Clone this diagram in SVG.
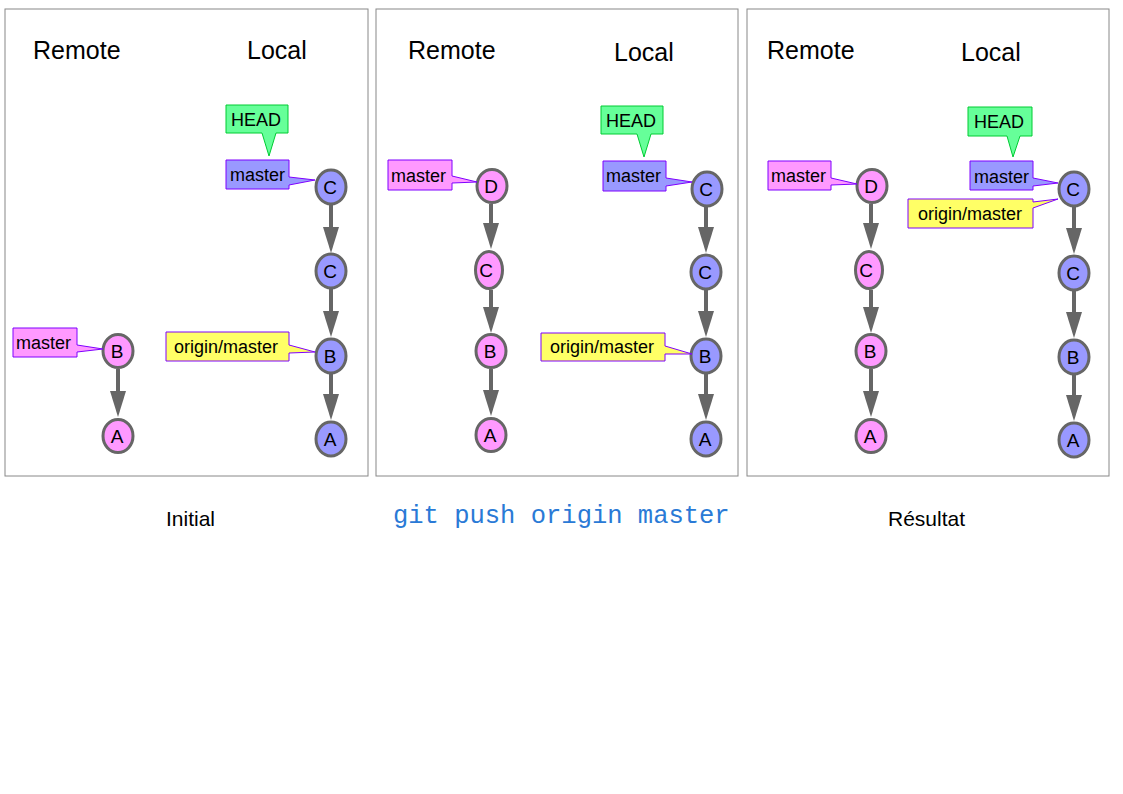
<svg xmlns="http://www.w3.org/2000/svg" width="1123" height="794" viewBox="0 0 1123 794">
<style>
.panel{fill:#fff;stroke:#888;stroke-width:1}
.hdr{font-family:"Liberation Sans",Arial,sans-serif;font-size:25px;fill:#000}
.cap{font-family:"Liberation Sans",Arial,sans-serif;font-size:21px;fill:#000}
.cmd{font-family:"Liberation Mono","Courier New",monospace;font-size:25.5px;fill:#2a7ad6}
.lbl{font-family:"Liberation Sans",Arial,sans-serif;font-size:18px;fill:#000}
.nt{font-family:"Liberation Sans",Arial,sans-serif;font-size:19px;fill:#000;text-anchor:middle}
.pink{fill:#ff99ff;stroke:#666;stroke-width:3}
.blue{fill:#9999ff;stroke:#666;stroke-width:3}
.lpink{fill:#ff99ff;stroke:#7f00ff;stroke-width:1}
.lblue{fill:#9999ff;stroke:#7f00ff;stroke-width:1}
.lyel{fill:#ffff66;stroke:#7f00ff;stroke-width:1}
.lhead{fill:#66ff99;stroke:#00cc33;stroke-width:1}
.edge{stroke:#666;stroke-width:4;fill:none;marker-end:url(#ah)}
</style>
<defs>
<marker id="ah" markerUnits="userSpaceOnUse" markerWidth="18" markerHeight="27" refX="8" refY="1" orient="0" overflow="visible">
<path d="M0,0 L16,0 L8,26 Z" fill="#666"/>
</marker>
</defs>
<rect width="1123" height="794" fill="#fff"/>
<g id="panels">
<rect class="panel" x="5" y="9" width="363" height="467"/>
<rect class="panel" x="376" y="9" width="362" height="467"/>
<rect class="panel" x="747" y="9" width="362" height="467"/>
</g>
<g id="headers">
<text class="hdr" x="33" y="59">Remote</text>
<text class="hdr" x="247" y="59">Local</text>
<text class="hdr" x="408" y="59">Remote</text>
<text class="hdr" x="614" y="61">Local</text>
<text class="hdr" x="767" y="59">Remote</text>
<text class="hdr" x="961" y="61">Local</text>
</g>
<g id="captions">
<text class="cap" x="166" y="526">Initial</text>
<text class="cmd" x="393" y="523">git push origin master</text>
<text class="cap" x="888" y="526">Résultat</text>
</g>
<g id="connectors">
<line class="edge" x1="118" y1="369" x2="118" y2="392"/>
<line class="edge" x1="331" y1="205" x2="331" y2="228"/>
<line class="edge" x1="331" y1="289" x2="331" y2="312"/>
<line class="edge" x1="331" y1="374" x2="331" y2="395"/>
<line class="edge" x1="491" y1="204" x2="491" y2="224"/>
<line class="edge" x1="491" y1="290" x2="491" y2="308"/>
<line class="edge" x1="491" y1="369" x2="491" y2="391"/>
<line class="edge" x1="706" y1="207" x2="706" y2="228"/>
<line class="edge" x1="706" y1="290" x2="706" y2="312"/>
<line class="edge" x1="706" y1="374" x2="706" y2="395"/>
<line class="edge" x1="871" y1="204" x2="871" y2="224"/>
<line class="edge" x1="871" y1="290" x2="871" y2="308"/>
<line class="edge" x1="871" y1="369" x2="871" y2="392"/>
<line class="edge" x1="1074" y1="207" x2="1074" y2="229"/>
<line class="edge" x1="1074" y1="291" x2="1074" y2="313"/>
<line class="edge" x1="1074" y1="375" x2="1074" y2="396"/>
</g>
<g id="p1-remote-B"><ellipse class="pink" cx="118" cy="351" rx="15" ry="16.5"/><text class="nt" x="117" y="358">B</text></g>
<g id="p1-remote-A"><ellipse class="pink" cx="118" cy="436" rx="15" ry="16.5"/><text class="nt" x="117" y="443">A</text></g>
<g id="p1-local-C2"><ellipse class="blue" cx="331" cy="187" rx="15" ry="17"/><text class="nt" x="330" y="194">C</text></g>
<g id="p1-local-C1"><ellipse class="blue" cx="331" cy="271" rx="15" ry="17"/><text class="nt" x="330" y="278">C</text></g>
<g id="p1-local-B"><ellipse class="blue" cx="331" cy="356" rx="15" ry="17"/><text class="nt" x="330" y="363">B</text></g>
<g id="p1-local-A"><ellipse class="blue" cx="331" cy="439" rx="15" ry="17"/><text class="nt" x="330" y="446">A</text></g>
<g id="p1-remote-master"><path class="lpink" d="M13,328 H77 V345 L103,349 L77,352 V357 H13 Z"/><text class="lbl" x="16" y="349">master</text></g>
<g id="p1-head"><path class="lhead" d="M226,105 H288 V133 H276 L269,156 L262,133 H226 Z"/><text class="lbl" x="231" y="126">HEAD</text></g>
<g id="p1-local-master"><path class="lblue" d="M226,160 H289 V177 L315,180 L289,185 V189 H226 Z"/><text class="lbl" x="230" y="181">master</text></g>
<g id="p1-origin-master"><path class="lyel" d="M166,332 H289 V345 L315,352 L289,353 V361 H166 Z"/><text class="lbl" x="174" y="353">origin/master</text></g>
<g id="p2-remote-D"><ellipse class="pink" cx="492" cy="186" rx="15" ry="16.5"/><text class="nt" x="491" y="193">D</text></g>
<g id="p2-remote-C"><ellipse class="pink" cx="489" cy="270" rx="13.5" ry="18.5"/><text class="nt" x="486" y="277">C</text></g>
<g id="p2-remote-B"><ellipse class="pink" cx="491" cy="351" rx="15" ry="16.5"/><text class="nt" x="490" y="358">B</text></g>
<g id="p2-remote-A"><ellipse class="pink" cx="491" cy="435" rx="15" ry="16.5"/><text class="nt" x="490" y="442">A</text></g>
<g id="p2-local-C2"><ellipse class="blue" cx="707" cy="189" rx="15" ry="17"/><text class="nt" x="706" y="196">C</text></g>
<g id="p2-local-C1"><ellipse class="blue" cx="706" cy="272" rx="15" ry="17"/><text class="nt" x="705" y="279">C</text></g>
<g id="p2-local-B"><ellipse class="blue" cx="706" cy="356" rx="15" ry="17"/><text class="nt" x="705" y="363">B</text></g>
<g id="p2-local-A"><ellipse class="blue" cx="706" cy="439" rx="15" ry="17"/><text class="nt" x="705" y="446">A</text></g>
<g id="p2-remote-master"><path class="lpink" d="M388,160 H452 V176 L477,182 L452,183 V190 H388 Z"/><text class="lbl" x="391" y="182">master</text></g>
<g id="p2-head"><path class="lhead" d="M601,106 H663 V134 H651 L644,157 L637,134 H601 Z"/><text class="lbl" x="606" y="127">HEAD</text></g>
<g id="p2-local-master"><path class="lblue" d="M603,161 H666 V178 L692,182 L666,186 V191 H603 Z"/><text class="lbl" x="606" y="182">master</text></g>
<g id="p2-origin-master"><path class="lyel" d="M541,333 H665 V346 L692,354 L665,354 V361 H541 Z"/><text class="lbl" x="550" y="353">origin/master</text></g>
<g id="p3-remote-D"><ellipse class="pink" cx="872" cy="186" rx="15" ry="16.5"/><text class="nt" x="871" y="193">D</text></g>
<g id="p3-remote-C"><ellipse class="pink" cx="869" cy="270" rx="13.5" ry="18.5"/><text class="nt" x="866" y="277">C</text></g>
<g id="p3-remote-B"><ellipse class="pink" cx="871" cy="351" rx="15" ry="16.5"/><text class="nt" x="870" y="358">B</text></g>
<g id="p3-remote-A"><ellipse class="pink" cx="871" cy="436" rx="15" ry="16.5"/><text class="nt" x="870" y="443">A</text></g>
<g id="p3-local-C2"><ellipse class="blue" cx="1074" cy="189" rx="15" ry="17"/><text class="nt" x="1073" y="196">C</text></g>
<g id="p3-local-C1"><ellipse class="blue" cx="1074" cy="273" rx="15" ry="17"/><text class="nt" x="1073" y="280">C</text></g>
<g id="p3-local-B"><ellipse class="blue" cx="1074" cy="357" rx="15" ry="17"/><text class="nt" x="1073" y="364">B</text></g>
<g id="p3-local-A"><ellipse class="blue" cx="1074" cy="440" rx="15" ry="17"/><text class="nt" x="1073" y="447">A</text></g>
<g id="p3-remote-master"><path class="lpink" d="M768,161 H831 V178 L857,184 L831,185 V190 H768 Z"/><text class="lbl" x="771" y="182">master</text></g>
<g id="p3-head"><path class="lhead" d="M968,107 H1032 V136 H1020 L1013,157 L1007,136 H968 Z"/><text class="lbl" x="974" y="128">HEAD</text></g>
<g id="p3-local-master"><path class="lblue" d="M970,161 H1033 V178 L1058,183 L1033,186 V190 H970 Z"/><text class="lbl" x="974" y="183">master</text></g>
<g id="p3-origin-master"><path class="lyel" d="M908,199 H1033 V202 L1058,199 L1033,208 V228 H908 Z"/><text class="lbl" x="918" y="220">origin/master</text></g>
</svg>
